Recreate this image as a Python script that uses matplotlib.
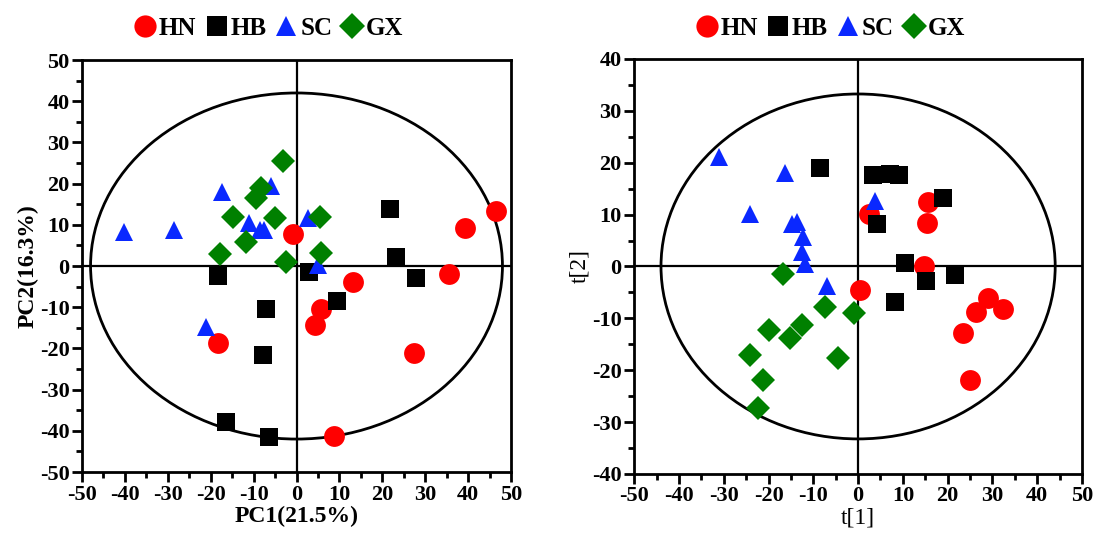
import matplotlib
matplotlib.use("Agg")
import matplotlib.pyplot as plt
from matplotlib.patches import Ellipse
from matplotlib.lines import Line2D
from matplotlib.ticker import MultipleLocator

plt.rcParams['font.family'] = ['Liberation Serif', 'DejaVu Serif']
plt.rcParams['axes.unicode_minus'] = False

groups = ["HN", "HB", "SC", "GX"]
colors = {"HN": "#ff0000", "HB": "#000000", "SC": "#0a28ff", "GX": "#008000"}
markers = {"HN": "o", "HB": "s", "SC": "^", "GX": "D"}
msize = {"HN": 15, "HB": 13, "SC": 13, "GX": 12}

# Left panel: PCA scores
pca_HN_x = [-0.9, 46.5, 39.2, 35.5, 13.1, 5.8, 4.2, 27.5, 8.7, -18.3]
pca_HN_y = [7.8, 13.3, 9.3, -1.9, -4.0, -10.5, -14.3, -21.0, -41.3, -18.6]
pca_HB_x = [21.7, 23.1, 27.9, 3.0, 9.5, -18.3, -7.2, -7.8, -16.4, -6.4]
pca_HB_y = [13.8, 2.3, -3.0, -1.4, -8.5, -2.4, -10.5, -21.6, -37.9, -41.4]
pca_SC_x = [-40.1, -28.6, -17.3, -11.0, -8.6, -7.5, -5.9, 2.6, 4.9, -21.0]
pca_SC_y = [8.3, 8.7, 18.0, 10.4, 8.7, 8.7, 19.3, 11.6, 0.2, -14.7]
pca_GX_x = [-3.2, -8.2, -9.4, -14.8, -5.1, -11.7, -17.9, -2.4, 5.4, 5.8]
pca_GX_y = [25.5, 18.9, 16.4, 12.0, 11.6, 5.9, 2.9, 1.0, 12.0, 3.1]

# Right panel: PLS-DA scores
pls_HN_x = [0.4, 2.5, 15.7, 15.3, 14.6, 28.9, 26.3, 32.4, 23.4, 24.9]
pls_HN_y = [-4.5, 10.2, 12.4, 8.4, 0.0, -6.0, -8.8, -8.2, -12.9, -21.9]
pls_HB_x = [-8.5, 3.4, 7.1, 9.2, 18.9, 4.3, 10.5, 15.2, 21.7, 8.3]
pls_HB_y = [19.0, 17.6, 17.9, 17.6, 13.1, 8.1, 0.6, -2.9, -1.7, -6.9]
pls_SC_x = [-31.0, -16.3, -24.1, -14.8, -13.7, -12.2, -12.6, -11.8, -7.0, 3.8]
pls_SC_y = [21.1, 18.0, 10.2, 8.2, 8.6, 5.7, 2.8, 0.5, -3.7, 12.7]
pls_GX_x = [-16.7, -7.4, -1.0, -12.6, -20.0, -15.2, -4.4, -24.1, -21.3, -22.3]
pls_GX_y = [-1.4, -7.9, -9.0, -11.2, -12.2, -13.8, -17.6, -17.0, -21.9, -27.3]

pca = {"HN": (pca_HN_x, pca_HN_y), "HB": (pca_HB_x, pca_HB_y),
       "SC": (pca_SC_x, pca_SC_y), "GX": (pca_GX_x, pca_GX_y)}
pls = {"HN": (pls_HN_x, pls_HN_y), "HB": (pls_HB_x, pls_HB_y),
       "SC": (pls_SC_x, pls_SC_y), "GX": (pls_GX_x, pls_GX_y)}

fig = plt.figure(figsize=(10.99, 5.46), dpi=100)
axL = fig.add_axes([0.0746, 0.1355, 0.3904, 0.7546])
axR = fig.add_axes([0.577, 0.132, 0.4076, 0.760])


def style(ax, xlim, ylim, ystep):
    ax.set_xlim(*xlim)
    ax.set_ylim(*ylim)
    ax.xaxis.set_major_locator(MultipleLocator(10))
    ax.xaxis.set_minor_locator(MultipleLocator(5))
    ax.yaxis.set_major_locator(MultipleLocator(ystep))
    ax.yaxis.set_minor_locator(MultipleLocator(ystep / 2))
    ax.tick_params(which='both', direction='out', width=2, top=False, right=False)
    ax.tick_params(which='major', length=7, labelsize=16, pad=2)
    ax.tick_params(which='minor', length=4)
    for lab in ax.get_xticklabels() + ax.get_yticklabels():
        lab.set_fontweight('bold')
    for sp in ax.spines.values():
        sp.set_linewidth(2)
    ax.axhline(0, color='black', lw=1.6, zorder=1)
    ax.axvline(0, color='black', lw=1.6, zorder=1)


def draw(ax, data, ew, eh):
    ax.add_patch(Ellipse((0, 0), ew, eh, fill=False, edgecolor='black', lw=2, zorder=1.5))
    for g in groups:
        xs, ys = data[g]
        ax.plot(xs, ys, linestyle='none', marker=markers[g], color=colors[g],
                markersize=msize[g], markeredgewidth=0, zorder=3)


style(axL, (-50, 50), (-50, 50), 10)
draw(axL, pca, 96, 84)
axL.set_xlabel("PC1(21.5%)", fontsize=17, fontweight='bold', labelpad=1)
axL.set_ylabel("PC2(16.3%)", fontsize=17, fontweight='bold', labelpad=1)

style(axR, (-50, 50), (-40, 40), 10)
draw(axR, pls, 88, 66.5)
axR.set_xlabel("t[1]", fontsize=17, labelpad=1)
axR.set_ylabel("t[2]", fontsize=17, labelpad=1)

handles = [Line2D([], [], linestyle='none', marker=markers[g], color=colors[g],
                  markersize=msize[g] + 1, markeredgewidth=0) for g in groups]
for ax, xc in ((axL, 0.244), (axR, 0.755)):
    leg = fig.legend(handles, groups, loc='center', bbox_to_anchor=(xc, 0.948),
                     ncol=4, frameon=False, handletextpad=0.05, columnspacing=0.3,
                     handlelength=1.0, prop={'size': 18, 'weight': 'bold'})

fig.savefig("out.png", dpi=100)
